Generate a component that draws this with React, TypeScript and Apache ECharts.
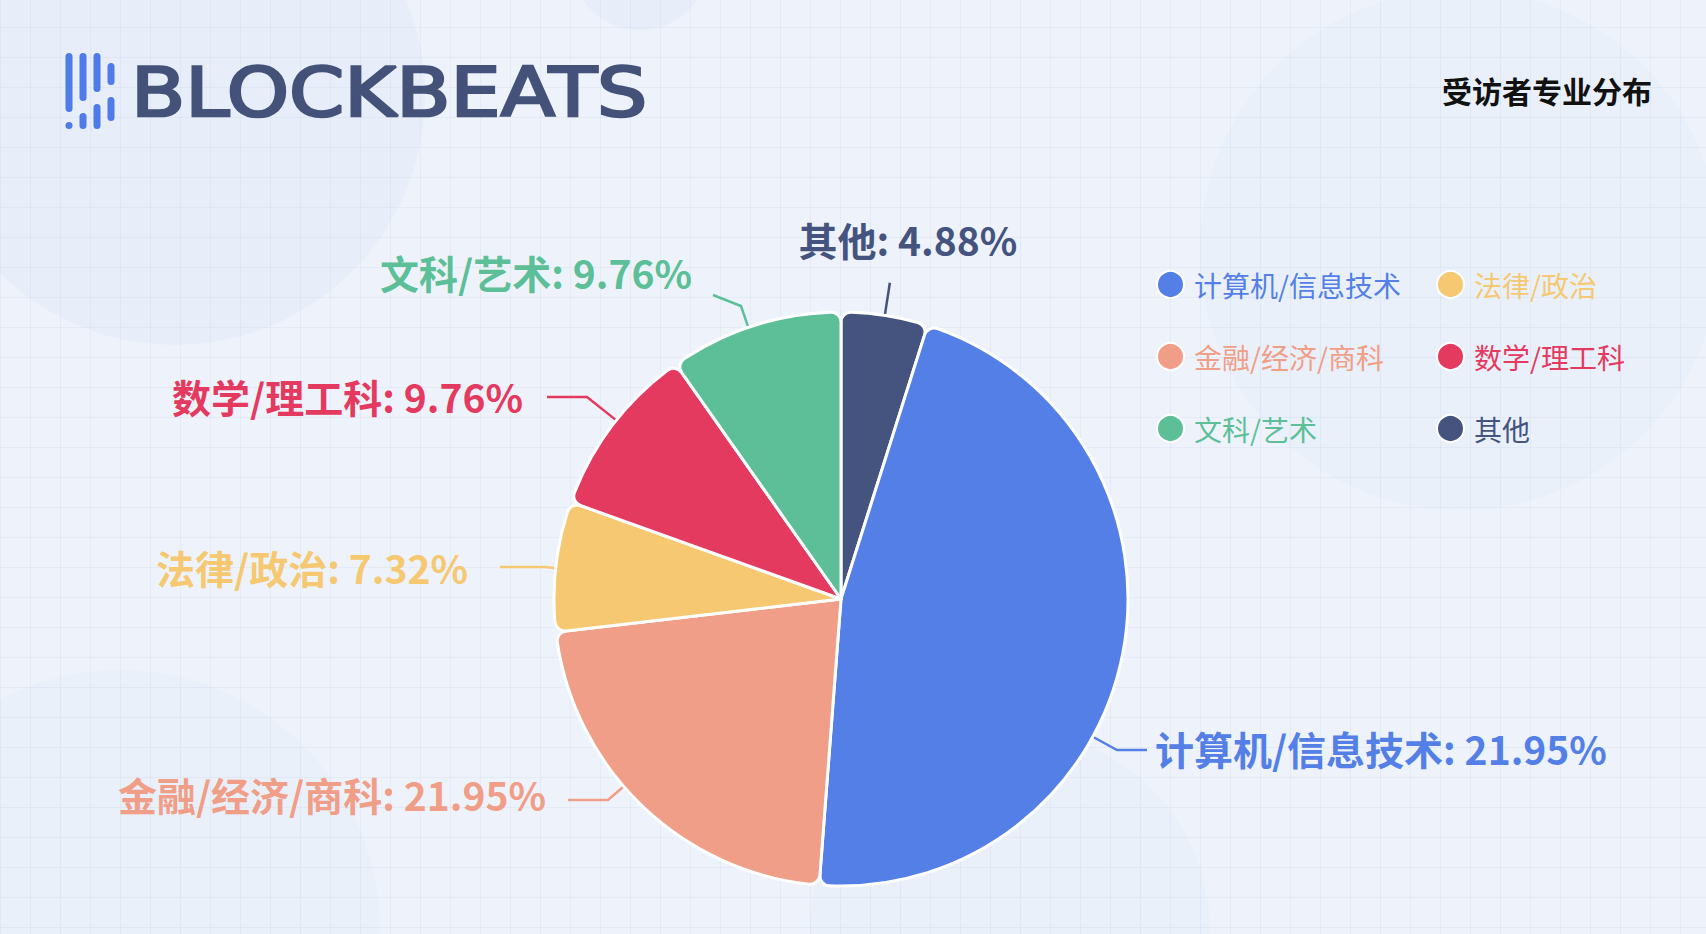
import React, { useEffect, useRef } from 'react';
import * as echarts from 'echarts';

// ---------- data ----------
const categories = ['其他', '计算机/信息技术', '金融/经济/商科', '法律/政治', '数学/理工科', '文科/艺术'];
// slice sizes as drawn (percent of the pie)
const sliceValues = [4.88, 46.34, 21.95, 7.32, 9.76, 9.76];
// percentages printed in the labels (as shown in the picture)
const labelPercents = ['4.88%', '21.95%', '21.95%', '7.32%', '9.76%', '9.76%'];
const sliceColors = ['#45547f', '#537fe7', '#f09e87', '#f5c871', '#e43a60', '#5cbf97'];
const legendColumn1 = ['计算机/信息技术', '金融/经济/商科', '文科/艺术'];
const legendColumn2 = ['法律/政治', '数学/理工科', '其他'];
const chartTitle = '受访者专业分布';
const brandName = 'BLOCKBEATS';

// ---------- layout ----------
const W = 1706;
const H = 934;
const FONT = '"Noto Sans CJK SC", "Noto Sans", sans-serif';
const PIE_CX = 841;
const PIE_CY = 599;
const PIE_R = 287;

// label text anchor (x, y, align) and leader line tail / elbow (layout only)
const LABEL_LAYOUT: Record<string, any> = {
  '计算机/信息技术': { x: 1155, y: 748, align: 'left', tail: [1147, 750], elbow: [1117, 750] },
  '金融/经济/商科': { x: 546, y: 794, align: 'right', tail: [568, 800], elbow: [608, 800] },
  '法律/政治': { x: 468, y: 567, align: 'right', tail: [500, 567], elbow: [545, 567] },
  '数学/理工科': { x: 523, y: 396, align: 'right', tail: [547, 397], elbow: [587, 397] },
  '文科/艺术': { x: 692, y: 272, align: 'right', tail: [713, 295], elbow: [741, 306] },
};

function colorOf(name: string) {
  return sliceColors[categories.indexOf(name)];
}

function nearestOnRim(p: number[]) {
  const dx = p[0] - PIE_CX;
  const dy = p[1] - PIE_CY;
  const d = Math.sqrt(dx * dx + dy * dy) || 1;
  return [PIE_CX + (dx / d) * PIE_R, PIE_CY + (dy / d) * PIE_R];
}

function buildGraphics() {
  const els: any[] = [];
  // soft background blobs
  const blobs: [number, number, number, string][] = [
    [175, 95, 250, 'rgba(222,231,248,0.4)'],
    [1460, 250, 260, 'rgba(226,234,249,0.4)'],
    [640, -40, 70, 'rgba(222,231,248,0.4)'],
    [120, 930, 260, 'rgba(226,234,249,0.35)'],
    [1010, 930, 200, 'rgba(226,234,249,0.3)'],
  ];
  blobs.forEach(([cx, cy, r, c]) =>
    els.push({ type: 'circle', silent: true, z: -10, shape: { cx, cy, r }, style: { fill: c } })
  );
  // grid
  for (let x = 0; x <= W; x += 30) {
    els.push({ type: 'line', silent: true, z: -5, shape: { x1: x + 0.5, y1: 0, x2: x + 0.5, y2: H }, style: { stroke: 'rgba(160,180,220,0.13)', lineWidth: 1 } });
  }
  for (let y = 27; y <= H; y += 30) {
    els.push({ type: 'line', silent: true, z: -5, shape: { x1: 0, y1: y + 0.5, x2: W, y2: y + 0.5 }, style: { stroke: 'rgba(160,180,220,0.13)', lineWidth: 1 } });
  }
  // logo bars
  const bars: [number, number, number][] = [
    [69, 53, 112], [69, 122, 129],
    [83, 53, 101], [83, 113, 129],
    [97, 53, 92], [97, 104, 129],
    [111, 63, 85], [111, 97, 121],
  ];
  bars.forEach(([cx, y1, y2]) =>
    els.push({ type: 'rect', silent: true, shape: { x: cx - 3.5, y: y1, width: 7, height: y2 - y1, r: 3.5 }, style: { fill: '#4f7be8' } })
  );
  els.push({
    type: 'text', silent: true, x: 131, y: 92, scaleX: 1.165, scaleY: 1,
    style: { text: brandName, fill: '#44527a', font: '68px "DejaVu Sans", sans-serif', textAlign: 'left', textVerticalAlign: 'middle', stroke: '#44527a', lineWidth: 2.6, lineJoin: 'round' },
  });
  els.push({
    type: 'text', silent: true, x: 1652, y: 90,
    style: { text: chartTitle, fill: '#111111', font: 'bold 30px ' + FONT, textAlign: 'right', textVerticalAlign: 'middle' },
  });
  return els;
}

function makeLegend(names: string[], left: number) {
  return {
    orient: 'vertical',
    left,
    top: 265,
    itemGap: 43,
    itemWidth: 27,
    itemHeight: 27,
    icon: 'circle',
    selectedMode: false,
    data: names.map((n) => ({ name: n, textStyle: { color: colorOf(n) } })),
    textStyle: { fontSize: 28, lineHeight: 28, fontFamily: FONT, fontWeight: 'normal', padding: [0, 0, 0, 5] },
  };
}

export default function App() {
  const ref = useRef<HTMLDivElement>(null);
  useEffect(() => {
    if (!ref.current) return;
    const chart = echarts.init(ref.current, undefined, { renderer: 'svg' });
    const total = sliceValues.reduce((a, b) => a + b, 0);
    const option: any = {
      animation: false,
      backgroundColor: '#eef3fb',
      graphic: { elements: buildGraphics() },
      legend: [makeLegend(legendColumn1, 1151), makeLegend(legendColumn2, 1431)],
      series: [
        {
          type: 'pie',
          center: [PIE_CX, PIE_CY],
          radius: PIE_R,
          startAngle: 90,
          clockwise: true,
          avoidLabelOverlap: false,
          emphasis: { disabled: true },
          itemStyle: { borderColor: '#ffffff', borderWidth: 3, borderRadius: 10 },
          label: {
            show: true,
            position: 'outside',
            fontSize: 39,
            fontWeight: 'bold',
            fontFamily: FONT,
            formatter: (p: any) => `${p.name}: ${labelPercents[p.dataIndex]}`,
          },
          labelLine: { show: true, length: 32, length2: 30, lineStyle: { width: 2.5 } },
          labelLayout: (params: any) => {
            const name = categories[params.dataIndex];
            const cfg = LABEL_LAYOUT[name];
            if (cfg) {
              const rim = nearestOnRim(cfg.elbow);
              return {
                x: cfg.x,
                y: cfg.y,
                align: cfg.align,
                verticalAlign: 'middle',
                labelLinePoints: [rim, cfg.elbow.slice(), cfg.tail.slice()],
              };
            }
            // radial leader line straight out of the slice middle, label above it
            let before = 0;
            for (let i = 0; i < params.dataIndex; i++) before += sliceValues[i];
            const mid = ((before + sliceValues[params.dataIndex] / 2) / total) * Math.PI * 2;
            const p0 = [PIE_CX + PIE_R * Math.sin(mid), PIE_CY - PIE_R * Math.cos(mid)];
            const p1 = [PIE_CX + (PIE_R + 33) * Math.sin(mid), PIE_CY - (PIE_R + 33) * Math.cos(mid)];
            return {
              x: p1[0] + 18,
              y: p1[1] - 44,
              align: 'center',
              verticalAlign: 'middle',
              labelLinePoints: [p0, p1, p1],
            };
          },
          data: categories.map((name, i) => ({
            name,
            value: sliceValues[i],
            itemStyle: { color: sliceColors[i] },
            label: { color: sliceColors[i] },
            labelLine: { lineStyle: { color: sliceColors[i], width: 2.5 } },
          })),
        },
      ],
    };
    chart.setOption(option);
    return () => chart.dispose();
  }, []);
  return <div ref={ref} style={{ position: 'absolute', left: 0, top: 0, width: W, height: H }} />;
}
